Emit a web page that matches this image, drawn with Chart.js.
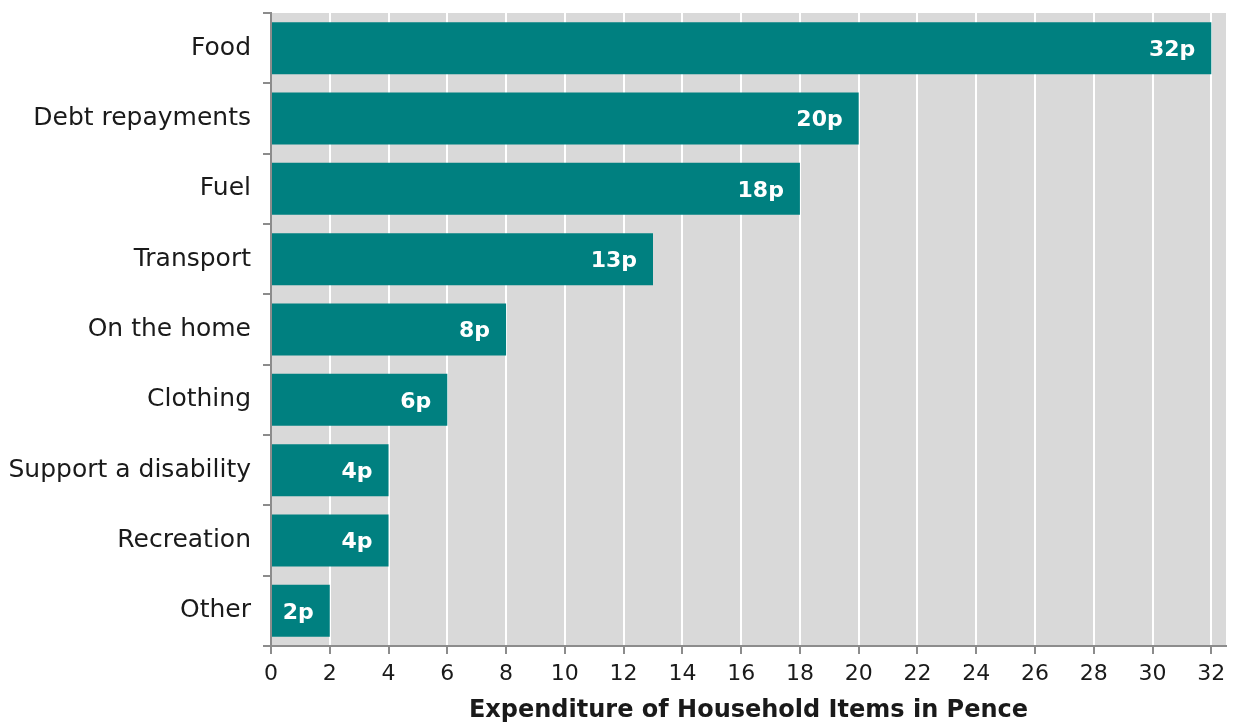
<!DOCTYPE html>
<html>
<head>
<meta charset="utf-8">
<script src="https://cdn.jsdelivr.net/npm/chart.js@4/dist/chart.umd.min.js"></script>
<style>
  html, body { margin: 0; padding: 0; background: #fff; }
  #wrap { width: 1236px; height: 725px; }
</style>
</head>
<body>
<div id="wrap"><canvas id="spendChart" width="1236" height="725"></canvas></div>
<script>
const categories = ['Food', 'Debt repayments', 'Fuel', 'Transport', 'On the home', 'Clothing', 'Support a disability', 'Recreation', 'Other'];
const pence = [32, 20, 18, 13, 8, 6, 4, 4, 2];
const xTicks = [0, 2, 4, 6, 8, 10, 12, 14, 16, 18, 20, 22, 24, 26, 28, 30, 32];

const FONT = "'DejaVu Sans', 'Open Sans', sans-serif";

// grey plot background behind the bars
const plotBg = {
  id: 'plotBg',
  beforeDraw(chart) {
    const { ctx, chartArea: a } = chart;
    ctx.save();
    ctx.fillStyle = '#d9d9d9';
    ctx.fillRect(a.left, a.top, a.right - a.left, a.bottom - a.top);
    ctx.restore();
  }
};

// "32p" style labels at the inside end of each bar
const barLabels = {
  id: 'barLabels',
  afterDatasetsDraw(chart) {
    const { ctx } = chart;
    const meta = chart.getDatasetMeta(0);
    ctx.save();
    ctx.fillStyle = '#ffffff';
    ctx.font = "bold 22px " + FONT;
    ctx.textAlign = 'right';
    ctx.textBaseline = 'middle';
    meta.data.forEach((bar, i) => {
      ctx.fillText(pence[i] + 'p', bar.x - 16, bar.y + 2);
    });
    ctx.restore();
  }
};

new Chart(document.getElementById('spendChart'), {
  type: 'bar',
  data: {
    labels: categories,
    datasets: [{
      data: pence,
      backgroundColor: '#008080',
      borderWidth: 0,
      barPercentage: 0.74,
      categoryPercentage: 1
    }]
  },
  options: {
    indexAxis: 'y',
    responsive: false,
    animation: false,
    layout: { padding: { top: 13, right: 10, left: 0, bottom: 0 } },
    plugins: { legend: { display: false }, tooltip: { enabled: false } },
    scales: {
      x: {
        min: 0,
        max: 32.5,
        afterBuildTicks: s => { s.ticks = xTicks.map(v => ({ value: v })); },
        afterFit: s => { s.height = 79; },
        border: { color: '#8c8c8c', width: 2 },
        grid: { color: '#ffffff', lineWidth: 2, tickColor: '#8c8c8c', tickLength: 8, drawTicks: true },
        ticks: { color: '#1a1a1a', font: { family: FONT, size: 22 }, padding: 7, maxRotation: 0 },
        title: {
          display: true,
          text: 'Expenditure of Household Items in Pence',
          color: '#1a1a1a',
          font: { family: FONT, size: 24, weight: 'bold' },
          padding: { top: 3, bottom: 0 }
        }
      },
      y: {
        afterFit: s => { s.width = 271; s.paddingTop = 0; s.paddingBottom = 0; },
        border: { color: '#8c8c8c', width: 2 },
        grid: { offset: true, drawOnChartArea: false, tickColor: '#8c8c8c', tickLength: 8, lineWidth: 2 },
        ticks: { color: '#1a1a1a', font: { family: FONT, size: 25 }, padding: 12 }
      }
    }
  },
  plugins: [plotBg, barLabels]
});
</script>
</body>
</html>
